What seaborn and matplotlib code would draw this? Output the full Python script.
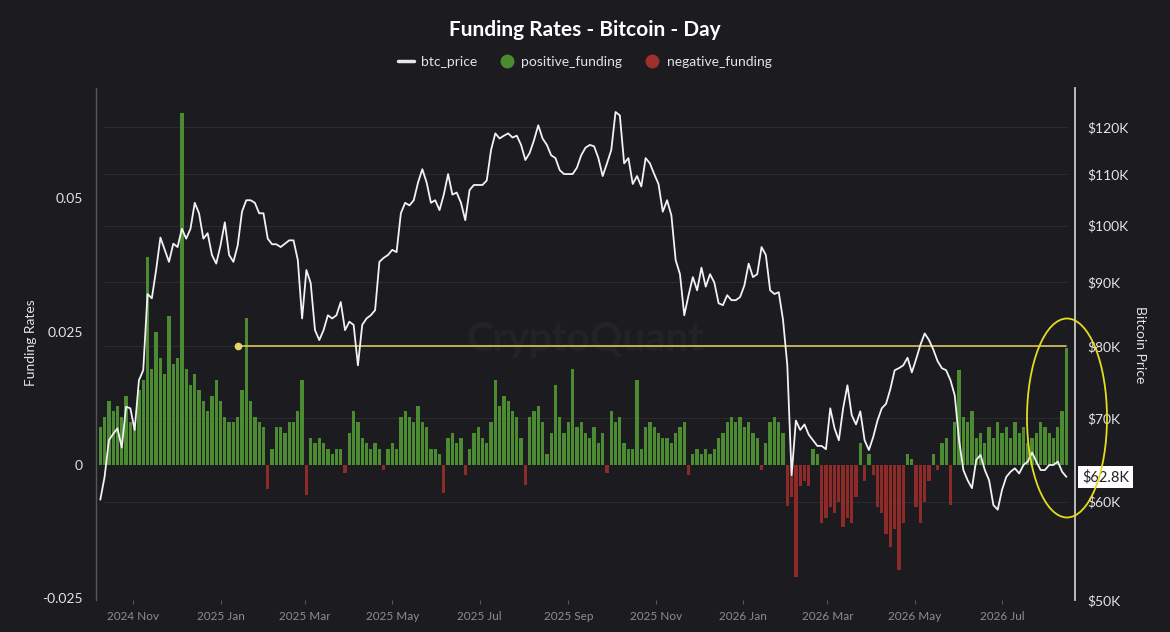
import pandas as pd
import matplotlib
matplotlib.use("Agg")
import matplotlib.pyplot as plt
import matplotlib.dates as mdates
import matplotlib.transforms as mtransforms
from matplotlib.lines import Line2D
from matplotlib.patches import Ellipse
from matplotlib.ticker import FixedLocator, FuncFormatter, NullLocator
import seaborn as sns

# BTC price in thousands of USD, one reading every 3 days from 2024-10-09
btc_price_k = [
    60.2, 62.8, 67.2, 68.0, 68.7, 66.3, 71.5, 71.3, 68.5, 75.1,
    76.5, 88.1, 87.4, 92.1, 97.8, 95.6, 93.5, 96.7, 96.1, 99.4,
    97.6, 99.4, 104.3, 102.3, 97.6, 98.6, 94.7, 93.2, 96.4, 100.6,
    94.7, 93.5, 96.4, 102.6, 104.8, 104.8, 104.3, 102.3, 102.3, 97.6,
    96.6, 96.6, 96.1, 96.7, 97.3, 97.3, 93.8, 84.2, 92.1, 89.9,
    82.4, 80.9, 82.4, 84.7, 84.2, 84.7, 86.8, 82.4, 83.7, 83.2,
    77.2, 83.2, 84.2, 84.7, 85.5, 93.5, 94.2, 94.7, 95.6, 95.2,
    102.3, 104.3, 103.8, 104.8, 108.3, 111.0, 108.3, 104.3, 104.8, 102.9,
    105.9, 110.0, 105.9, 106.3, 104.3, 101.0, 106.8, 107.8, 107.8, 107.8,
    108.7, 115.0, 118.6, 117.5, 118.1, 118.6, 117.7, 118.1, 116.1, 112.9,
    114.4, 117.1, 120.4, 117.5, 116.1, 113.9, 113.3, 110.8, 110.0, 110.0,
    110.0, 111.3, 113.9, 115.5, 116.1, 115.8, 113.3, 109.6, 112.2, 115.0,
    123.4, 122.6, 112.2, 113.3, 108.0, 109.6, 107.5, 113.3, 112.2, 110.0,
    108.0, 102.6, 104.8, 101.9, 93.8, 91.4, 84.7, 87.9, 90.9, 88.7,
    92.5, 89.3, 91.4, 90.0, 86.6, 86.3, 87.9, 87.1, 87.1, 87.6,
    89.5, 93.2, 90.9, 91.4, 96.1, 94.7, 88.7, 88.1, 88.4, 84.0,
    77.2, 63.0, 69.7, 68.5, 69.2, 67.9, 67.2, 66.5, 66.5, 66.1,
    71.3, 68.7, 67.2, 71.3, 74.4, 70.4, 69.2, 70.9, 67.2, 66.0,
    67.6, 69.7, 71.3, 71.9, 73.9, 76.5, 76.8, 77.2, 78.3, 76.2,
    78.1, 80.2, 81.9, 80.9, 79.5, 77.8, 76.8, 76.5, 75.1, 73.0,
    67.2, 63.6, 62.4, 61.5, 64.8, 65.4, 63.6, 62.4, 59.6, 59.1,
    61.3, 62.8, 63.4, 63.8, 63.2, 64.2, 64.6, 65.7, 64.6, 63.6,
    63.6, 64.2, 64.2, 64.6, 63.4, 62.8,
]

# funding rate for the same dates
funding_rate = [
    0.007, 0.009, 0.012, 0.010, 0.011, 0.009, 0.013, 0.008, 0.007, 0.014,
    0.016, 0.039, 0.018, 0.025, 0.020, 0.017, 0.028, 0.019, 0.020, 0.066,
    0.018, 0.015, 0.017, 0.014, 0.012, 0.010, 0.013, 0.016, 0.012, 0.009,
    0.008, 0.008, 0.009, 0.014, 0.0275, 0.012, 0.009, 0.008, 0.007, -0.0045,
    0.003, 0.007, 0.007, 0.006, 0.008, 0.008, 0.010, 0.016, -0.0056, 0.005,
    0.004, 0.005, 0.004, 0.003, 0.002, 0.003, 0.003, -0.0015, 0.006, 0.010,
    0.008, 0.005, 0.004, 0.003, 0.004, 0.003, -0.001, 0.003, 0.004, 0.003,
    0.009, 0.010, 0.009, 0.008, 0.011, 0.008, 0.007, 0.003, 0.003, 0.002,
    -0.0052, 0.005, 0.006, 0.004, 0.005, -0.002, 0.003, 0.006, 0.007, 0.005,
    0.004, 0.008, 0.016, 0.011, 0.013, 0.012, 0.010, 0.009, 0.005, -0.0037,
    0.009, 0.010, 0.011, 0.008, 0.002, 0.006, 0.015, 0.009, 0.006, 0.008,
    0.018, 0.007, 0.008, 0.006, 0.005, 0.007, 0.004, 0.006, -0.0015, 0.010,
    0.008, 0.009, 0.004, 0.003, 0.003, 0.016, 0.003, 0.007, 0.008, 0.007,
    0.006, 0.005, 0.005, 0.004, 0.006, 0.007, 0.008, -0.002, 0.002, 0.003,
    0.002, 0.003, 0.002, 0.003, 0.005, 0.006, 0.008, 0.009, 0.008, 0.009,
    0.007, 0.008, 0.006, 0.005, -0.001, 0.004, 0.008, 0.009, 0.008, 0.006,
    -0.0078, -0.006, -0.021, -0.004, -0.003, -0.004, 0.003, 0.002, -0.011, -0.010,
    -0.008, -0.009, -0.007, -0.0116, -0.010, -0.011, -0.006, 0.004, -0.003, 0.002,
    -0.002, -0.008, -0.009, -0.013, -0.0154, -0.012, -0.0197, -0.011, 0.002, 0.001,
    -0.008, -0.011, -0.007, -0.003, 0.002, -0.001, 0.004, 0.005, -0.0075, 0.008,
    0.0178, 0.009, 0.008, 0.010, 0.005, 0.006, 0.004, 0.007, 0.005, 0.008,
    0.006, 0.007, 0.005, 0.008, 0.006, 0.007, 0.004, 0.005, 0.006, 0.008,
    0.007, 0.006, 0.005, 0.007, 0.010, 0.022,
]

start_date = "2024-10-09"

# yellow reference level
level_k = 80.0
level_start = "2025-01-13"
level_end = "2026-08-15"

price_ticks_k = [50, 60, 70, 80, 90, 100, 110, 120]
funding_ticks = [-0.025, 0, 0.025, 0.05]

bg = "#1b1b20"
green = "#4c8b31"
red = "#8e2a27"
text_c = "#e4e4e4"

sns.set_theme(style="dark")
plt.rcParams["font.family"] = ["Lato", "DejaVu Sans"]

dates = pd.date_range(start_date, periods=len(btc_price_k), freq="3D")
df = pd.DataFrame({"date": dates, "price": btc_price_k, "funding": funding_rate})

fig = plt.figure(figsize=(11.7, 6.32), dpi=100, facecolor=bg)
ax = fig.add_axes([96 / 1170, 32 / 632, 979 / 1170, 512 / 632])
ax.set_facecolor(bg)
ax2 = ax.twinx()
ax2.patch.set_visible(False)

# funding bars on the left scale
pos = df["funding"] >= 0
ax.bar(df["date"][pos], df["funding"][pos], width=2.3, color=green, linewidth=0, zorder=2)
ax.bar(df["date"][~pos], df["funding"][~pos], width=2.3, color=red, linewidth=0, zorder=2)

# price on the right (log) scale
ax2.set_yscale("log")
ax2.plot([pd.Timestamp(level_start), pd.Timestamp(level_end)], [level_k, level_k],
         color="#d9c65c", lw=1.2, zorder=3)
ax2.plot([pd.Timestamp(level_start)], [level_k], "o", ms=4.5, color="#e3d36a", zorder=3)
sns.lineplot(data=df, x="date", y="price", ax=ax2, color="#f2f2f2", lw=1.3, zorder=4)

ax.set_xlim(pd.Timestamp("2024-10-06"), pd.Timestamp("2026-08-21"))
ax.set_ylim(-0.02537, 0.0707)
ax2.set_ylim(50, 129.0)

# faint grid from the price ticks, kept behind the bars
trans = mtransforms.blended_transform_factory(ax.transAxes, ax2.transData)
for p in price_ticks_k:
    ax.plot([0.008, 0.992], [p, p], transform=trans, color="#2a2a31", lw=0.8, zorder=0)
ax.grid(False)
ax2.grid(False)

ax.yaxis.set_major_locator(FixedLocator(funding_ticks))
ax.yaxis.set_major_formatter(FuncFormatter(lambda v, _: f"{v:g}"))
ax.tick_params(axis="y", length=0, pad=9.5, labelsize=10, labelcolor=text_c)

ax2.yaxis.set_major_locator(FixedLocator(price_ticks_k))
ax2.yaxis.set_minor_locator(NullLocator())
ax2.yaxis.set_major_formatter(FuncFormatter(lambda v, _: f"${v:.0f}K"))
ax2.tick_params(axis="y", which="both", length=0, pad=8.5, labelsize=10, labelcolor=text_c)

ax.xaxis.set_major_locator(mdates.MonthLocator(bymonth=[1, 3, 5, 7, 9, 11]))
ax.xaxis.set_major_formatter(mdates.DateFormatter("%Y %b"))
ax.tick_params(axis="x", length=3, width=0.8, color="#55555c", pad=5,
               labelsize=8.5, labelcolor="#8c8c92", bottom=True)

ax.set_xlabel("")
ax.set_ylabel("")
ax2.set_xlabel("")
ax2.set_ylabel("")

for s in ["top", "right", "bottom"]:
    ax.spines[s].set_visible(False)
ax.spines["left"].set_color("#55555c")
ax.spines["left"].set_linewidth(1.0)
for s in ["top", "left", "bottom"]:
    ax2.spines[s].set_visible(False)
ax2.spines["right"].set_color("#c8c8c8")
ax2.spines["right"].set_linewidth(1.3)

# watermark
ax.text(0.4995, 0.508, "CryptoQuant", transform=ax.transAxes, ha="center", va="center",
        fontsize=29, fontweight="bold", color="white", alpha=0.035, zorder=1)

# last price label
last = btc_price_k[-1]
ax2.annotate(f"${last:.1f}K", xy=(1, last), xycoords=ax2.get_yaxis_transform(),
             xytext=(5, 0), textcoords="offset points", ha="left", va="center",
             fontsize=10.5, color="#222226", annotation_clip=False, zorder=6,
             bbox=dict(boxstyle="square,pad=0.25", fc="white", ec="none"))

# highlight ellipse
fig.add_artist(Ellipse((1067 / 1170, 1 - 418 / 632), 80 / 1170, 199 / 632,
                       transform=fig.transFigure, fill=False,
                       edgecolor="#e4dc1e", lw=1.3))

fig.text(0.5, 1 - 30 / 632, "Funding Rates - Bitcoin - Day", ha="center", va="center",
         fontsize=15, fontweight="bold", color="white")
fig.text(31 / 1170, 1 - 343 / 632, "Funding Rates", rotation=90, ha="center",
         va="center", fontsize=10, color=text_c)
fig.text(1140 / 1170, 1 - 345 / 632, "Bitcoin Price", rotation=270, ha="center",
         va="center", fontsize=10, color=text_c)

handles = [
    Line2D([0], [0], color="#e8e8e8", lw=2.5),
    Line2D([0], [0], marker="o", ls="", ms=10, markerfacecolor="#4b8a2f", markeredgecolor="none"),
    Line2D([0], [0], marker="o", ls="", ms=10, markerfacecolor="#a0302b", markeredgecolor="none"),
]
fig.legend(handles, ["btc_price", "positive_funding", "negative_funding"],
           loc="center", bbox_to_anchor=(0.5, 1 - 62 / 632), ncol=3, frameon=False,
           fontsize=10, labelcolor=text_c, handlelength=1.1, handletextpad=0.5,
           columnspacing=1.6)

fig.savefig("out.png", dpi=100, facecolor=bg)
